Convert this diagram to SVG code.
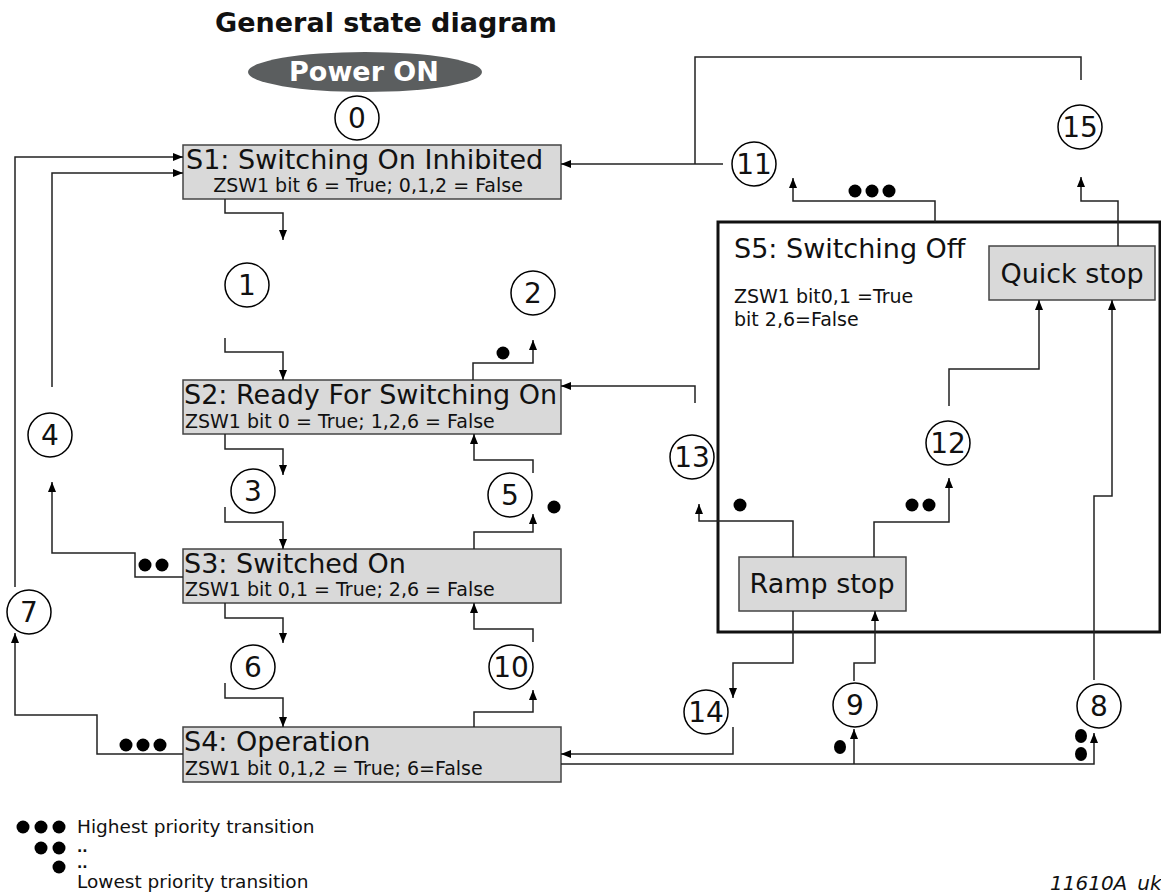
<svg xmlns="http://www.w3.org/2000/svg" width="1161" height="893" viewBox="0 0 1161 893">
<style>
text{font-family:"DejaVu Sans","Liberation Sans",sans-serif;fill:#111}
.title{font-size:27px;font-weight:bold}
.pwr{font-size:27px;font-weight:bold;fill:#fff}
.box{fill:#d9d9d9;stroke:#444;stroke-width:1.5}
.main{font-size:27px}
.sub{font-size:19px}
.num{font-size:28px;text-anchor:middle}
.circ{fill:#fff;stroke:#000;stroke-width:1.5}
.dot{fill:#000}
.con path{fill:none;stroke:#222;stroke-width:1.5}
.leg{font-size:18.5px}
.dd{font-size:14px;font-weight:bold}
</style>
<defs>
<marker id="ah" markerWidth="10" markerHeight="8" refX="10" refY="4" orient="auto" markerUnits="userSpaceOnUse"><path d="M0,0 L10,4 L0,8 z" fill="#000"/></marker>
</defs>
<rect width="1161" height="893" fill="#fff"/>
<text class="title" x="386" y="32" text-anchor="middle">General state diagram</text>
<g id="power">
<ellipse cx="365" cy="72" rx="117" ry="20" fill="#5b5e5f"/>
<text class="pwr" x="364" y="81" text-anchor="middle">Power ON</text>
</g>
<g id="S5">
<rect x="718" y="222" width="442" height="410" fill="none" stroke="#111" stroke-width="3"/>
<text class="main" x="734" y="258">S5: Switching Off</text>
<text class="sub" x="734" y="303">ZSW1 bit0,1 =True</text>
<text class="sub" x="734" y="326">bit 2,6=False</text>
</g>
<g id="quickstop">
<rect class="box" x="989" y="246" width="166" height="54"/>
<text class="main" x="1072" y="283" text-anchor="middle">Quick stop</text>
</g>
<g id="rampstop">
<rect class="box" x="739" y="557" width="167" height="54"/>
<text class="main" x="822" y="593" text-anchor="middle">Ramp stop</text>
</g>
<g id="S1">
<rect class="box" x="183" y="145" width="378" height="54"/>
<text class="main" x="186" y="169">S1: Switching On Inhibited</text>
<text class="sub" x="368" y="192" text-anchor="middle">ZSW1 bit 6 = True; 0,1,2 = False</text>
</g>
<g id="S2">
<rect class="box" x="183" y="380" width="378" height="54"/>
<text class="main" x="184" y="404">S2: Ready For Switching On</text>
<text class="sub" x="185" y="428">ZSW1 bit 0 = True; 1,2,6 = False</text>
</g>
<g id="S3">
<rect class="box" x="183" y="549" width="378" height="54"/>
<text class="main" x="184" y="573">S3: Switched On</text>
<text class="sub" x="185" y="596">ZSW1 bit 0,1 = True; 2,6 = False</text>
</g>
<g id="S4">
<rect class="box" x="183" y="727" width="378" height="55"/>
<text class="main" x="184" y="751">S4: Operation</text>
<text class="sub" x="185" y="775">ZSW1 bit 0,1,2 = True; 6=False</text>
</g>
<g id="connectors" class="con">
<path d="M225,199 V213 H283 V240" marker-end="url(#ah)"/>
<path d="M225,338 V352 H283 V380" marker-end="url(#ah)"/>
<path d="M473,380 V363 H533 V340" marker-end="url(#ah)"/>
<path d="M225,434 V449 H283 V475" marker-end="url(#ah)"/>
<path d="M225,507 V522 H283 V549" marker-end="url(#ah)"/>
<path d="M533,473 V460 H474 V434" marker-end="url(#ah)"/>
<path d="M474,549 V532 H533 V514" marker-end="url(#ah)"/>
<path d="M225,603 V618 H283 V643" marker-end="url(#ah)"/>
<path d="M225,683 V698 H283 V727" marker-end="url(#ah)"/>
<path d="M474,727 V712 H533 V690" marker-end="url(#ah)"/>
<path d="M533,642 V629 H474 V603" marker-end="url(#ah)"/>
<path d="M183,577 H135 V553 H52 V482" marker-end="url(#ah)"/>
<path d="M52,387 V173 H183" marker-end="url(#ah)"/>
<path d="M183,754 H97 V715 H15 V633" marker-end="url(#ah)"/>
<path d="M15,587 V157 H183" marker-end="url(#ah)"/>
<path d="M723,164 H561" marker-end="url(#ah)"/>
<path d="M1081,80 V57 H695 V164"/>
<path d="M935,222 V201 H793 V178" marker-end="url(#ah)"/>
<path d="M1118,246 V201 H1081 V177" marker-end="url(#ah)"/>
<path d="M695,403 V386 H561" marker-end="url(#ah)"/>
<path d="M793,557 V521 H699 V504" marker-end="url(#ah)"/>
<path d="M874,557 V522 H949 V478" marker-end="url(#ah)"/>
<path d="M949,406 V369 H1039 V300" marker-end="url(#ah)"/>
<path d="M793,611 V663 H733 V698" marker-end="url(#ah)"/>
<path d="M733,727 V754 H561" marker-end="url(#ah)"/>
<path d="M561,764 H1094 V733" marker-end="url(#ah)"/>
<path d="M854,764 V729" marker-end="url(#ah)"/>
<path d="M854,681 V663 H875 V611" marker-end="url(#ah)"/>
<path d="M1094,680 V496 H1112 V300" marker-end="url(#ah)"/>
</g>
<g id="t0"><circle class="circ" cx="357" cy="118" r="22"/><text class="num" x="357" y="128">0</text></g>
<g id="t1"><circle class="circ" cx="247" cy="285" r="22"/><text class="num" x="247" y="295">1</text></g>
<g id="t2"><circle class="circ" cx="533" cy="293" r="22"/><text class="num" x="533" y="303">2</text></g>
<g id="t3"><circle class="circ" cx="253" cy="491" r="22"/><text class="num" x="253" y="501">3</text></g>
<g id="t4"><circle class="circ" cx="50" cy="435" r="22"/><text class="num" x="50" y="445">4</text></g>
<g id="t5"><circle class="circ" cx="510" cy="495" r="22"/><text class="num" x="510" y="505">5</text></g>
<g id="t6"><circle class="circ" cx="253" cy="667" r="22"/><text class="num" x="253" y="677">6</text></g>
<g id="t7"><circle class="circ" cx="29" cy="612" r="22"/><text class="num" x="29" y="622">7</text></g>
<g id="t8"><circle class="circ" cx="1099" cy="706" r="22"/><text class="num" x="1099" y="716">8</text></g>
<g id="t9"><circle class="circ" cx="855" cy="705" r="22"/><text class="num" x="855" y="715">9</text></g>
<g id="t10"><circle class="circ" cx="511" cy="667" r="22"/><text class="num" x="511" y="677">10</text></g>
<g id="t11"><circle class="circ" cx="754" cy="164" r="22"/><text class="num" x="754" y="174">11</text></g>
<g id="t12"><circle class="circ" cx="948" cy="443" r="22"/><text class="num" x="948" y="453">12</text></g>
<g id="t13"><circle class="circ" cx="692" cy="457" r="22"/><text class="num" x="692" y="467">13</text></g>
<g id="t14"><circle class="circ" cx="706" cy="712" r="22"/><text class="num" x="706" y="722">14</text></g>
<g id="t15"><circle class="circ" cx="1080" cy="127" r="22"/><text class="num" x="1080" y="137">15</text></g>
<g id="priority-dots">
<circle class="dot" cx="503" cy="353" r="6.5"/>
<circle class="dot" cx="554" cy="507" r="6.5"/>
<circle class="dot" cx="145" cy="565" r="6.5"/>
<circle class="dot" cx="162" cy="565" r="6.5"/>
<circle class="dot" cx="126" cy="745" r="6.5"/>
<circle class="dot" cx="143" cy="745" r="6.5"/>
<circle class="dot" cx="160" cy="745" r="6.5"/>
<circle class="dot" cx="855" cy="191" r="6.5"/>
<circle class="dot" cx="872" cy="191" r="6.5"/>
<circle class="dot" cx="889" cy="191" r="6.5"/>
<circle class="dot" cx="740" cy="505" r="6.5"/>
<circle class="dot" cx="912" cy="505" r="6.5"/>
<circle class="dot" cx="929" cy="505" r="6.5"/>
<ellipse class="dot" cx="840" cy="747" rx="6" ry="7"/>
<ellipse class="dot" cx="1081" cy="736" rx="6" ry="7"/>
<ellipse class="dot" cx="1081" cy="754" rx="6" ry="7"/>
</g>
<g id="legend">
<circle class="dot" cx="23" cy="827" r="6.5"/>
<circle class="dot" cx="41" cy="827" r="6.5"/>
<circle class="dot" cx="59" cy="827" r="6.5"/>
<circle class="dot" cx="41" cy="848" r="6.5"/>
<circle class="dot" cx="59" cy="848" r="6.5"/>
<circle class="dot" cx="59" cy="867" r="6.5"/>
<text class="leg" x="77" y="833">Highest priority transition</text>
<text class="dd" x="77" y="852">..</text>
<text class="dd" x="77" y="868">..</text>
<text class="leg" x="77" y="888">Lowest priority transition</text>
</g>
<text x="1050" y="890" style="font-size:20px;font-style:italic">11610A_uk</text>
</svg>
